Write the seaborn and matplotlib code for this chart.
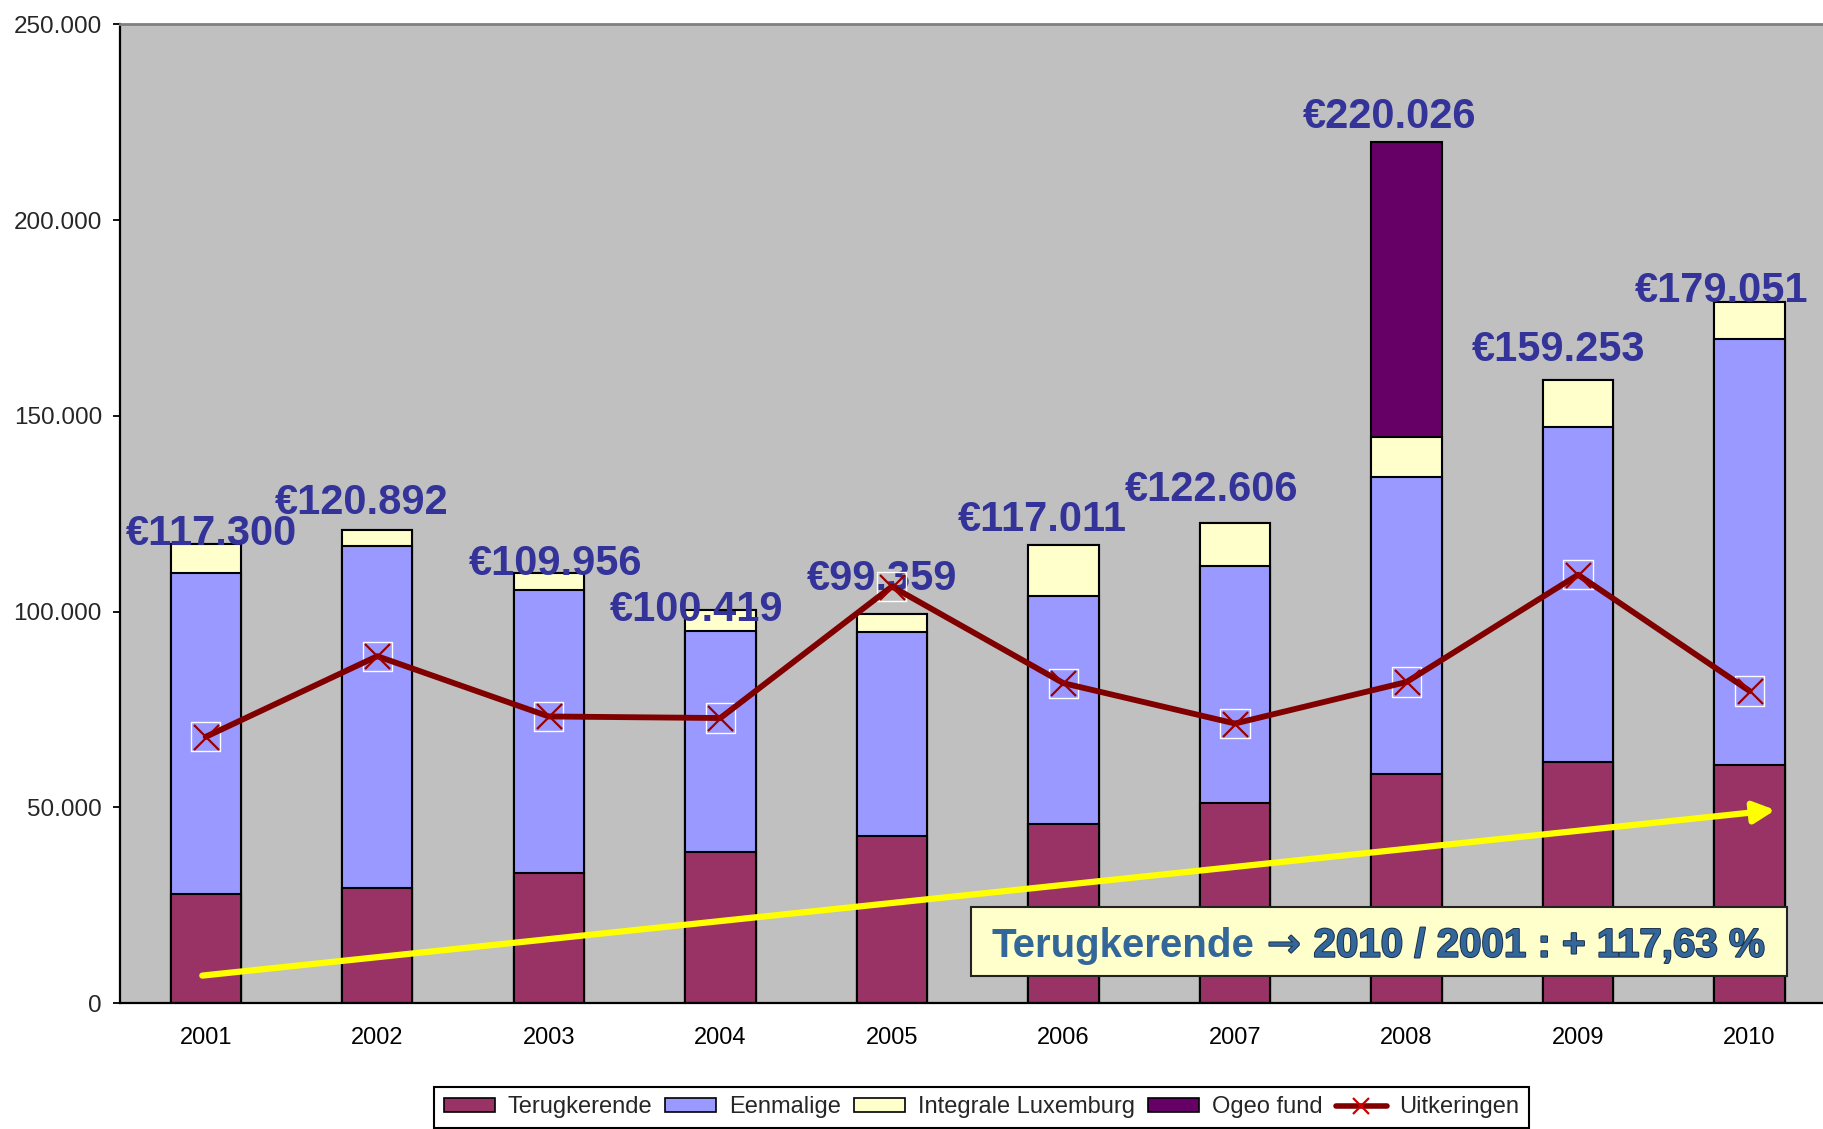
import numpy as np
import pandas as pd
import matplotlib
matplotlib.use("Agg")
import matplotlib.pyplot as plt
import matplotlib.patheffects as pe
from matplotlib.patches import Patch, Rectangle
from matplotlib.lines import Line2D
from matplotlib.ticker import FuncFormatter
import seaborn as sns

# ---------------- data ----------------
years = ['2001', '2002', '2003', '2004', '2005', '2006', '2007', '2008', '2009', '2010']
terugkerende = [27960, 29400, 33250, 38600, 42750, 45700, 51070, 58500, 61460, 60850]
eenmalige = [82000, 87300, 72150, 56400, 51950, 58200, 60530, 76000, 85800, 108900]
integrale_lux = [7340, 4192, 4556, 5419, 4659, 13111, 11006, 10100, 11993, 9301]
ogeo_fund = [0, 0, 0, 0, 0, 0, 0, 75426, 0, 0]
uitkeringen = [68000, 88600, 73200, 72800, 106400, 81700, 71400, 82000, 109400, 79700]
totals = [117300, 120892, 109956, 100419, 99359, 117011, 122606, 220026, 159253, 179051]
y_ticks = [0, 50000, 100000, 150000, 200000, 250000]
series_names = ['Terugkerende', 'Eenmalige', 'Integrale Luxemburg', 'Ogeo fund', 'Uitkeringen']
note_part1 = 'Terugkerende'
note_arrow = ' \u2192 '
note_part2 = '2010 / 2001 : + 117,63 %'

# ---------------- style ----------------
sns.set_style('white')
plt.rcParams['font.family'] = ['Liberation Sans', 'DejaVu Sans']

c_terug = '#993366'
c_eenm = '#9999ff'
c_integ = '#ffffcc'
c_ogeo = '#660066'
c_line = '#800000'
c_label = '#333399'
c_note = '#336699'

# label nudges (points): layout only
label_dx = [4, -11, 5, -17, -7, -15, -17, -12, -14, -20]
label_dy = [7, 19, 6, 0, 25, 18, 24, 18, 21, 8]

fig = plt.figure(figsize=(18.23, 11.29), dpi=100)
ax = fig.add_axes([0.0658, 0.1116, 0.941, 0.8668])
ax.set_facecolor('#c0c0c0')

t = np.array(terugkerende)
e = np.array(eenmalige)
i_ = np.array(integrale_lux)
o = np.array(ogeo_fund)
layers = [
    (t + e + i_ + o, c_ogeo),
    (t + e + i_, c_integ),
    (t + e, c_eenm),
    (t, c_terug),
]
for vals, col in layers:
    sns.barplot(x=years, y=vals, order=years, color=col, saturation=1,
                width=0.41, edgecolor='black', linewidth=1.5,
                errorbar=None, ax=ax, zorder=2)

pos = np.arange(len(years))

# total labels
for k, tot in enumerate(totals):
    txt = '\u20ac' + f'{tot:,}'.replace(',', '.')
    ax.annotate(txt, xy=(pos[k], tot), xytext=(label_dx[k], label_dy[k]),
                textcoords='offset points', ha='center', va='center',
                fontsize=30, fontweight='bold', color=c_label, zorder=4)

# Uitkeringen line
ax.scatter(pos, uitkeringen, marker='s', s=21 ** 2, facecolors='none',
           edgecolors='white', linewidths=1.0, zorder=5)
sns.lineplot(x=pos, y=uitkeringen, color=c_line, lw=4.2, marker='x',
             markersize=18, markeredgewidth=1.6, markeredgecolor='#990000',
             ax=ax, zorder=6)

# yellow trend arrow
ax.annotate('', xy=(9.15, 49300), xytext=(-0.02, 7000),
            arrowprops=dict(arrowstyle='-|>', color='#ffff00', lw=4.5,
                            mutation_scale=32, shrinkA=0, shrinkB=0),
            zorder=7)

# note box
ax.add_patch(Rectangle((4.459, 6895), 9.22 - 4.459, 24515 - 6895,
                       facecolor='#ffffcc', edgecolor='#222222', lw=1.5, zorder=8))
base_y = 11823
stroke = [pe.withStroke(linewidth=1.4, foreground='#1c2f4d')]
t1 = ax.text(4.58, base_y, note_part1, fontsize=29, fontweight='bold',
             color=c_note, ha='left', va='baseline', zorder=9)
t2 = ax.annotate(note_arrow, xy=(1, base_y), xycoords=(t1, 'data'),
                 ha='left', va='baseline', fontsize=29, family='DejaVu Sans',
                 color=c_note, zorder=9, path_effects=stroke)
t3 = ax.annotate(note_part2, xy=(1, base_y), xycoords=(t2, 'data'),
                 ha='left', va='baseline', fontsize=29, fontweight='bold',
                 color=c_note, zorder=9, path_effects=stroke)

# axes formatting
ax.set_xlim(-0.5, len(years) - 0.5)
ax.set_ylim(0, 250000)
ax.set_yticks(y_ticks)
ax.yaxis.set_major_formatter(FuncFormatter(lambda v, p: f'{int(v):,}'.replace(',', '.')))
ax.set_xticks(pos)
ax.set_xticklabels(years)
ax.set_xticks(np.arange(-0.5, len(years)), minor=True)
ax.set_xlabel('')
ax.set_ylabel('')
ax.tick_params(axis='x', which='major', length=0, pad=17, labelsize=17, colors='black')
ax.tick_params(axis='x', which='minor', length=6.5, width=1.3, direction='out', color='black')
ax.tick_params(axis='y', which='major', length=5, width=1.3, pad=8, labelsize=17.5,
               direction='out', left=True, color='black')
for side in ['left', 'bottom']:
    ax.spines[side].set_color('black')
    ax.spines[side].set_linewidth(1.6)
ax.spines['top'].set_color('#808080')
ax.spines['top'].set_linewidth(2)
ax.spines['right'].set_visible(False)
ax.grid(False)

# legend
handles = [
    Patch(facecolor=c_terug, edgecolor='black', lw=1.2),
    Patch(facecolor=c_eenm, edgecolor='black', lw=1.2),
    Patch(facecolor=c_integ, edgecolor='black', lw=1.2),
    Patch(facecolor=c_ogeo, edgecolor='black', lw=1.2),
    Line2D([], [], color=c_line, lw=4, marker='x', markersize=12,
           markeredgewidth=1.6, markeredgecolor='#cc0000'),
]
leg = fig.legend(handles, series_names, loc='upper left',
                 bbox_to_anchor=(0.2381, 0.0372), bbox_transform=fig.transFigure,
                 ncol=5, fontsize=17, frameon=True, fancybox=False,
                 edgecolor='black', framealpha=1, borderaxespad=0,
                 handlelength=2.16, handleheight=0.5, handletextpad=0.55,
                 columnspacing=0.55, borderpad=0.4)
leg.get_frame().set_linewidth(1.5)

fig.savefig('out.png', dpi=100, facecolor='white')
